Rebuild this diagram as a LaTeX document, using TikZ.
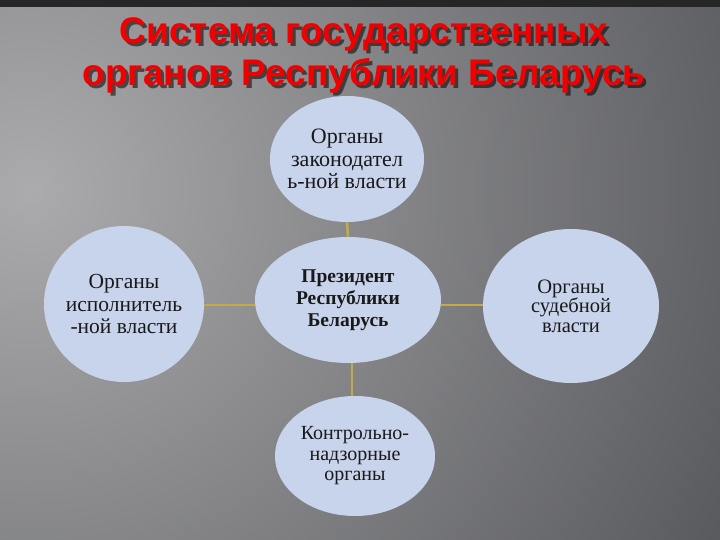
\documentclass[tikz,border=0pt]{standalone}
\usepackage{fontspec}
\usetikzlibrary{shapes.geometric}
\setmainfont{Liberation Serif}
\newfontfamily\titlefont{Liberation Sans}
\begin{document}
\begin{tikzpicture}[x=1pt,y=-1pt,
  blob/.style={ellipse, fill=blobfill, inner xsep=-14pt, inner ysep=0pt, align=center, font=\fontsize{19.5}{22}\selectfont, text=black!90},
  link/.style={draw=linkcol, line width=2.6pt},
  ttl/.style={font=\titlefont\bfseries\fontsize{37}{42}\selectfont, align=center}
]
\definecolor{blobfill}{HTML}{C8D3EC}
\definecolor{linkcol}{HTML}{C2AA48}
\definecolor{bgdark}{HTML}{4C4D51}
\definecolor{bglight}{HTML}{ABABAD}
\definecolor{titlered}{HTML}{F00000}
\useasboundingbox (0,0) rectangle (720,540);
\begin{scope}
\clip (0,0) rectangle (720,540);
\shade[inner color=bglight, outer color=bgdark] (30,190) circle (900);
\end{scope}
\fill[black!85] (0,0) rectangle (720,7);
% title
\node[ttl, text=black, opacity=0.55] at (367,58) {Система государственных\\органов Республики Беларусь};
\node (title) [ttl, text=titlered] at (364,55) {Система государственных\\органов Республики Беларусь};
% nodes
\node (leg) [blob, minimum width=154pt, minimum height=126pt, font=\fontsize{22}{22.5}\selectfont] at (347,159) {Органы\\законодател\\ь-ной власти};
\node (pres) [blob, minimum width=186pt, minimum height=126pt, font=\bfseries\fontsize{19.5}{22}\selectfont] at (348,300) {Президент\\Республики\\Беларусь};
\node (exe) [blob, minimum width=160pt, minimum height=156pt, font=\fontsize{21.5}{22.5}\selectfont] at (124,304) {Органы\\исполнитель\\-ной власти};
\node (jud) [blob, minimum width=176pt, minimum height=154pt, font=\fontsize{20.5}{19.5}\selectfont] at (571,306) {Органы\\судебной\\власти};
\node (ctl) [blob, minimum width=160pt, minimum height=120pt, font=\fontsize{20}{20.5}\selectfont] at (355,456) {Контрольно-\\надзорные\\органы};
% connectors
\draw[link] (leg.south) -- (pres.north);
\draw[link] (exe.east |- 0,305) -- (pres.west |- 0,305);
\draw[link] (pres.east |- 0,305) -- (jud.west |- 0,305);
\draw[link] ([xshift=4pt]pres.south) -- ([xshift=-3pt]ctl.north);
\end{tikzpicture}
\end{document}
